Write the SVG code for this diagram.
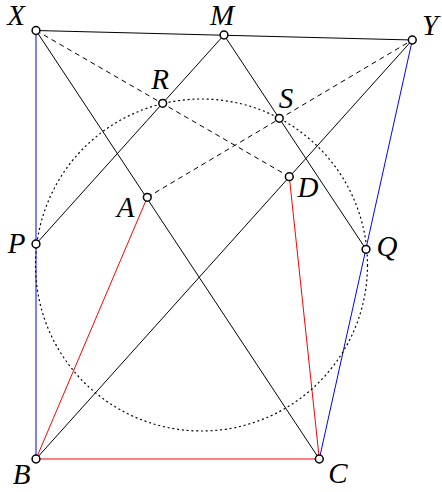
<svg xmlns="http://www.w3.org/2000/svg" width="442" height="492" viewBox="0 0 442 492">
<style>
.ln{stroke:#000;stroke-width:1;fill:none}
.da{stroke:#000;stroke-width:1;fill:none;stroke-dasharray:5,4}
.bl{stroke:#0000ff;stroke-width:1;fill:none}
.rd{stroke:#ff0000;stroke-width:1;fill:none}
.ci{stroke:#000;stroke-width:1.2;fill:none;stroke-dasharray:2,2.8}
.pt{fill:#fff;stroke:#000;stroke-width:1.5}
.lb{font-family:"Liberation Serif","Times New Roman",serif;font-style:italic;font-size:29px;fill:#000;text-anchor:middle}
</style>
<rect width="442" height="492" fill="#fff"/>
<g id="connectors">
<line class="ln" x1="36" y1="30.5" x2="412.3" y2="40"/>
<line class="ln" x1="36" y1="30.5" x2="319.3" y2="459"/>
<line class="ln" x1="224" y1="35" x2="36" y2="244"/>
<line class="ln" x1="224" y1="35" x2="366" y2="249.3"/>
<line class="ln" x1="36" y1="459" x2="412.3" y2="40"/>
<line class="da" x1="36" y1="30.5" x2="289.3" y2="176.7"/>
<line class="da" x1="147.3" y1="197.3" x2="412.3" y2="40"/>
<line class="bl" x1="36" y1="30.5" x2="36" y2="459"/>
<line class="bl" x1="412.3" y1="40" x2="319.3" y2="459"/>
<line class="rd" x1="147.3" y1="197.3" x2="36" y2="459"/>
<line class="rd" x1="289.3" y1="176.7" x2="319.3" y2="459"/>
<line class="rd" x1="36" y1="459" x2="319.3" y2="459"/>
</g>
<g id="circle"><circle class="ci" cx="201.5" cy="265" r="166"/></g>
<g id="X"><circle class="pt" cx="36" cy="30.5" r="3.9"/><text class="lb" x="16" y="25">X</text></g>
<g id="M"><circle class="pt" cx="224" cy="35" r="3.9"/><text class="lb" x="222" y="25">M</text></g>
<g id="Y"><circle class="pt" cx="412.3" cy="40" r="3.9"/><text class="lb" x="430" y="35">Y</text></g>
<g id="R"><circle class="pt" cx="162.7" cy="103.3" r="3.9"/><text class="lb" x="160" y="89">R</text></g>
<g id="S"><circle class="pt" cx="279.3" cy="118.3" r="3.9"/><text class="lb" x="286" y="108">S</text></g>
<g id="A"><circle class="pt" cx="147.3" cy="197.3" r="3.9"/><text class="lb" x="125.5" y="217">A</text></g>
<g id="D"><circle class="pt" cx="289.3" cy="176.7" r="3.9"/><text class="lb" x="308" y="197">D</text></g>
<g id="P"><circle class="pt" cx="36" cy="244" r="3.9"/><text class="lb" x="16.5" y="253">P</text></g>
<g id="Q"><circle class="pt" cx="366" cy="249.3" r="3.9"/><text class="lb" x="387" y="256">Q</text></g>
<g id="B"><circle class="pt" cx="36" cy="459" r="3.9"/><text class="lb" x="21.5" y="484">B</text></g>
<g id="C"><circle class="pt" cx="319.3" cy="459" r="3.9"/><text class="lb" x="338" y="483">C</text></g>
</svg>
